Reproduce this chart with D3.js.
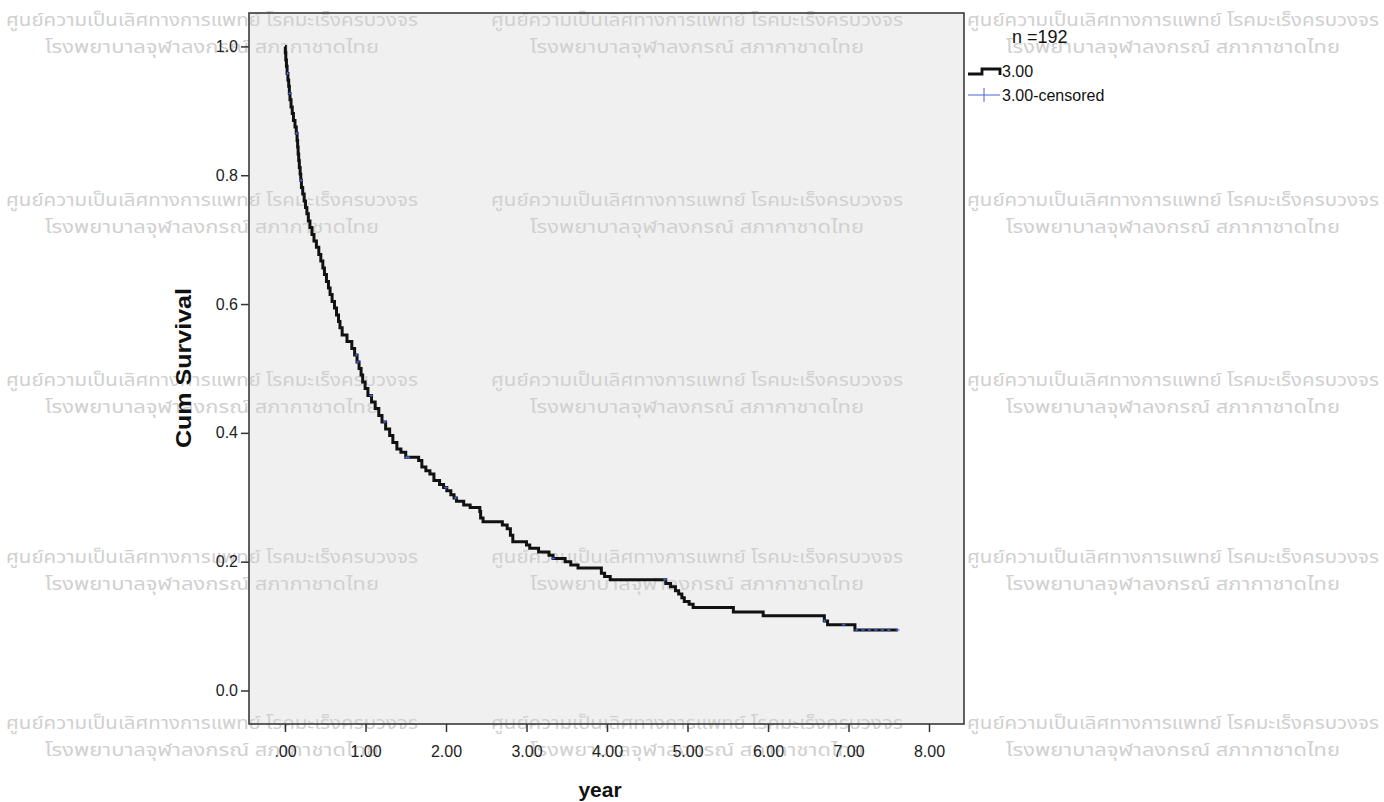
<!DOCTYPE html>
<html>
<head>
<meta charset="utf-8">
<script src="https://cdn.jsdelivr.net/npm/d3@7"></script>
<style>
  html, body { margin: 0; padding: 0; background: #ffffff; }
  svg { display: block; }
</style>
</head>
<body>
<svg id="chart" width="1384" height="802"></svg>
<script>
// ---- data ----
const stepTimes = [0, 0.004, 0.010, 0.018, 0.026, 0.036, 0.046, 0.054, 0.062, 0.075, 0.090, 0.105, 0.124, 0.140, 0.150, 0.157, 0.163, 0.170, 0.178, 0.188, 0.196, 0.204, 0.220, 0.238, 0.255, 0.272, 0.290, 0.310, 0.335, 0.360, 0.390, 0.420, 0.445, 0.470, 0.490, 0.515, 0.540, 0.560, 0.585, 0.615, 0.640, 0.665, 0.683, 0.710, 0.770, 0.830, 0.865, 0.895, 0.920, 0.945, 0.965, 0.995, 1.030, 1.075, 1.120, 1.165, 1.205, 1.250, 1.300, 1.340, 1.390, 1.440, 1.500, 1.660, 1.700, 1.750, 1.800, 1.850, 1.920, 1.970, 2.010, 2.060, 2.100, 2.130, 2.220, 2.300, 2.420, 2.430, 2.460, 2.700, 2.760, 2.800, 2.830, 3.000, 3.040, 3.150, 3.280, 3.330, 3.480, 3.550, 3.640, 3.930, 3.970, 4.040, 4.730, 4.790, 4.850, 4.890, 4.930, 4.960, 5.020, 5.070, 5.570, 5.940, 6.700, 6.740, 7.080];
const stepSurvival = [1.000, 0.990, 0.979, 0.969, 0.958, 0.948, 0.938, 0.927, 0.917, 0.906, 0.896, 0.885, 0.875, 0.865, 0.854, 0.844, 0.833, 0.823, 0.812, 0.802, 0.792, 0.781, 0.771, 0.760, 0.750, 0.740, 0.729, 0.719, 0.708, 0.698, 0.688, 0.677, 0.667, 0.656, 0.646, 0.635, 0.625, 0.615, 0.604, 0.594, 0.583, 0.573, 0.563, 0.552, 0.542, 0.531, 0.521, 0.510, 0.500, 0.490, 0.479, 0.469, 0.458, 0.448, 0.438, 0.427, 0.417, 0.406, 0.396, 0.385, 0.375, 0.370, 0.362, 0.357, 0.347, 0.341, 0.336, 0.326, 0.320, 0.315, 0.310, 0.304, 0.299, 0.294, 0.288, 0.284, 0.278, 0.268, 0.262, 0.257, 0.251, 0.241, 0.231, 0.226, 0.221, 0.215, 0.210, 0.205, 0.200, 0.195, 0.190, 0.182, 0.177, 0.172, 0.166, 0.161, 0.155, 0.150, 0.144, 0.138, 0.134, 0.129, 0.122, 0.116, 0.108, 0.102, 0.094];
const lastTime = 7.61;
const censoredTimes = [0.030, 0.060, 0.145, 0.200, 0.890, 0.905, 1.070, 1.240, 1.510, 1.530, 2.000, 2.120, 3.330, 4.720, 6.700, 6.940, 7.100, 7.180, 7.260, 7.340, 7.420, 7.500, 7.610];
const xTicks = [0, 1, 2, 3, 4, 5, 6, 7, 8];
const yTicks = [0, 0.2, 0.4, 0.6, 0.8, 1.0];
const legendLabels = ["3.00", "3.00-censored"];
const nLabel = "n =192";
const watermarkLines = ["ศูนย์ความเป็นเลิศทางการแพทย์ โรคมะเร็งครบวงจร", "โรงพยาบาลจุฬาลงกรณ์ สภากาชาดไทย"];

// ---- drawing ----
const svg = d3.select("#chart");
const font = "'Liberation Sans', Arial, sans-serif";

const frame = {left: 249, top: 13, right: 964, bottom: 724};
const x = d3.scaleLinear().domain([0, 8]).range([285, 929]);
const y = d3.scaleLinear().domain([0, 1]).range([690.5, 46.4]);

// plot background
svg.append("rect")
  .attr("x", frame.left).attr("y", frame.top)
  .attr("width", frame.right - frame.left).attr("height", frame.bottom - frame.top)
  .attr("fill", "#f0f0f0");

// watermark
const wmCols = [212, 697, 1173];
const wmRows = [26, 206, 386, 563, 729];
const wm = svg.append("g").attr("font-family", "'Noto Sans Thai', 'Noto Sans', Tahoma, sans-serif")
  .attr("font-size", 18).attr("fill", "#d0d0d0").attr("text-anchor", "middle");
wmRows.forEach(ry => wmCols.forEach(cx => {
  wm.append("text").attr("x", cx).attr("y", ry)
    .attr("textLength", 412).attr("lengthAdjust", "spacingAndGlyphs").text(watermarkLines[0]);
  wm.append("text").attr("x", cx).attr("y", ry + 27)
    .attr("textLength", 334).attr("lengthAdjust", "spacingAndGlyphs").text(watermarkLines[1]);
}));

// KM step curve
const pts = stepTimes.map((t, i) => [t, stepSurvival[i]]);
pts.push([lastTime, stepSurvival[stepSurvival.length - 1]]);
const line = d3.line().x(d => x(d[0])).y(d => y(d[1])).curve(d3.curveStepAfter);
svg.append("path").datum(pts)
  .attr("d", line).attr("fill", "none")
  .attr("stroke", "#111").attr("stroke-width", 3)
  .attr("stroke-linejoin", "miter");

// survival at time t (step function lookup)
function survAt(t) {
  let v = stepSurvival[0];
  for (let i = 0; i < stepTimes.length; i++) { if (stepTimes[i] <= t) v = stepSurvival[i]; }
  return v;
}
// censored marks
const cg = svg.append("g").attr("stroke", "#4a63d6").attr("stroke-width", 1);
censoredTimes.forEach(t => {
  const cx = x(t), cy = y(survAt(t));
  cg.append("line").attr("x1", cx - 2).attr("x2", cx + 2).attr("y1", cy).attr("y2", cy);
  cg.append("line").attr("x1", cx).attr("x2", cx).attr("y1", cy - 1.5).attr("y2", cy + 1.5);
});

// frame
svg.append("rect")
  .attr("x", frame.left).attr("y", frame.top)
  .attr("width", frame.right - frame.left).attr("height", frame.bottom - frame.top)
  .attr("fill", "none").attr("stroke", "#3a3a3a").attr("stroke-width", 1.6);

// y axis
const yAxis = svg.append("g").attr("transform", `translate(${frame.left},0)`)
  .call(d3.axisLeft(y).tickValues(yTicks).tickFormat(d3.format(".1f")).tickSize(8).tickPadding(3));
yAxis.select(".domain").remove();
yAxis.selectAll(".tick line").attr("stroke", "#333").attr("stroke-width", 1.5);
yAxis.selectAll(".tick text").attr("font-family", font).attr("font-size", 16).attr("fill", "#222");

// x axis
const xAxis = svg.append("g").attr("transform", `translate(0,${frame.bottom})`)
  .call(d3.axisBottom(x).tickValues(xTicks)
    .tickFormat(d => d === 0 ? ".00" : d3.format(".2f")(d)).tickSize(8).tickPadding(14));
xAxis.select(".domain").remove();
xAxis.selectAll(".tick line").attr("stroke", "#333").attr("stroke-width", 1.5);
xAxis.selectAll(".tick text").attr("font-family", font).attr("font-size", 16).attr("fill", "#222");

// axis titles
svg.append("text").attr("transform", "translate(191,368) rotate(-90)")
  .attr("text-anchor", "middle").attr("font-family", font).attr("font-weight", "bold")
  .attr("font-size", 22).attr("textLength", 160).attr("lengthAdjust", "spacingAndGlyphs")
  .attr("fill", "#111").text("Cum Survival");
svg.append("text").attr("x", 600).attr("y", 797)
  .attr("text-anchor", "middle").attr("font-family", font).attr("font-weight", "bold")
  .attr("font-size", 21).attr("fill", "#111").text("year");

// legend
svg.append("text").attr("x", 1012).attr("y", 43).attr("font-family", font)
  .attr("font-size", 18).attr("fill", "#111").text(nLabel);
const lg = svg.append("g");
lg.append("path").attr("d", "M968,74 H982 V69 H1000 V75").attr("fill", "none")
  .attr("stroke", "#111").attr("stroke-width", 2.8);
lg.append("text").attr("x", 1002).attr("y", 77).attr("font-family", font)
  .attr("font-size", 16).attr("fill", "#111").text(legendLabels[0]);
lg.append("line").attr("x1", 968).attr("x2", 1000).attr("y1", 95).attr("y2", 95)
  .attr("stroke", "#4a63d6").attr("stroke-width", 1);
lg.append("line").attr("x1", 984).attr("x2", 984).attr("y1", 88).attr("y2", 102)
  .attr("stroke", "#4a63d6").attr("stroke-width", 1);
lg.append("text").attr("x", 1002).attr("y", 101).attr("font-family", font)
  .attr("font-size", 16).attr("fill", "#111").text(legendLabels[1]);
</script>
</body>
</html>
